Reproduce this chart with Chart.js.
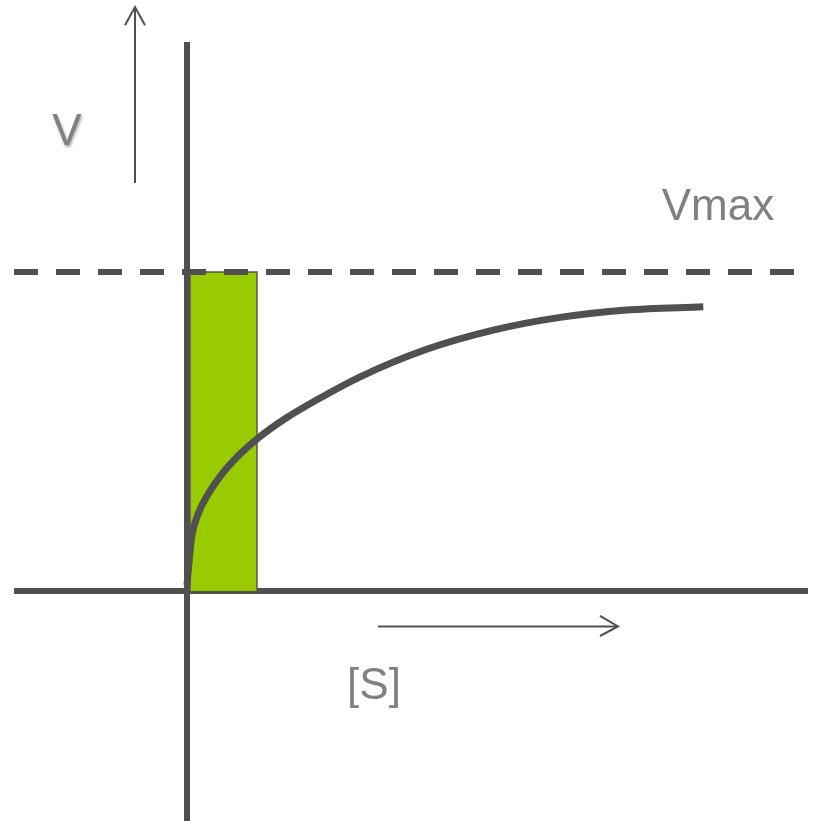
<!DOCTYPE html>
<html>
<head>
<meta charset="utf-8">
<script src="https://cdn.jsdelivr.net/npm/chart.js@4"></script>
<style>
  html, body { margin: 0; padding: 0; background: #fff; }
  canvas { display: block; }
</style>
</head>
<body>
<canvas id="chart" width="815" height="821"></canvas>
<script>
// substrate concentration [S] (arbitrary units) and rate V as fraction of Vmax
const sValues = [0, 0.2, 0.47, 1.13, 2.13, 3.47, 5.13, 6.97, 9.8, 13.13, 17.47, 23.97, 30.63, 37.3, 43.97, 51.63];
const vValues = [0.019, 0.09, 0.170, 0.243, 0.305, 0.366, 0.424, 0.476, 0.540, 0.602, 0.674, 0.758, 0.818, 0.858, 0.881, 0.891];
const vmax = 1;
const barS = [0.3, 7.0];
const axisLabels = ['V', 'Vmax', '[S]'];

const dark = '#505050';
const grey = '#808080';

const xMin = -18.7, xMax = 62.8;
const yMin = -0.721, yMax = 1.853;

const pts = (xs, ys) => xs.map((x, i) => ({ x: x, y: ys[i] }));

const textPlugin = {
  id: 'texts',
  afterDraw(chart) {
    const { ctx, scales: { x, y } } = chart;
    const items = [
      { t: axisLabels[0], sx: -12.0, sy: 1.437, shadow: true },
      { t: axisLabels[1], sx: 53.1, sy: 1.20 },
      { t: axisLabels[2], sx: 18.7, sy: -0.301 }
    ];
    ctx.save();
    ctx.font = '44px "Liberation Sans", Arial, sans-serif';
    ctx.fillStyle = grey;
    ctx.textAlign = 'center';
    ctx.textBaseline = 'middle';
    items.forEach(it => {
      if (it.shadow) {
        ctx.shadowColor = 'rgba(0,0,0,0.35)';
        ctx.shadowBlur = 3;
        ctx.shadowOffsetX = 1;
        ctx.shadowOffsetY = 2;
      } else {
        ctx.shadowColor = 'transparent';
      }
      ctx.fillText(it.t, x.getPixelForValue(it.sx), y.getPixelForValue(it.sy));
    });
    ctx.restore();
  }
};

const lineDs = (data, extra) => Object.assign({
  data: data,
  borderColor: dark,
  borderWidth: 2,
  pointRadius: 0,
  fill: false,
  tension: 0,
  clip: false
}, extra);

new Chart(document.getElementById('chart'), {
  type: 'line',
  data: {
    datasets: [
      // Michaelis-Menten curve
      lineDs(pts(sValues, vValues), { borderWidth: 7, cubicInterpolationMode: 'monotone', order: 0 }),
      // Vmax dashed line
      lineDs([{ x: -17.3, y: vmax }, { x: 60.8, y: vmax }], { borderWidth: 6, borderDash: [24, 18], order: 1 }),
      // green bar
      lineDs([{ x: barS[0], y: 0 }, { x: barS[0], y: vmax }, { x: barS[1], y: vmax }, { x: barS[1], y: 0 }],
        { borderWidth: 1.5, borderColor: '#555555', backgroundColor: '#99cc00', fill: 'origin', order: 2 }),
      // axes
      lineDs([{ x: -17.3, y: 0 }, { x: 62.1, y: 0 }], { borderWidth: 6, order: 3 }),
      lineDs([{ x: 0, y: 1.721 }, { x: 0, y: yMin }], { borderWidth: 6, order: 3 }),
      // V arrow
      lineDs([{ x: -5.2, y: 1.279 }, { x: -5.2, y: 1.831 }], { order: 4 }),
      lineDs([{ x: -6.2, y: 1.774 }, { x: -5.2, y: 1.831 }, { x: -4.2, y: 1.774 }], { order: 4 }),
      // [S] arrow
      lineDs([{ x: 19.1, y: -0.111 }, { x: 43.1, y: -0.111 }], { order: 4 }),
      lineDs([{ x: 41.3, y: -0.078 }, { x: 43.1, y: -0.111 }, { x: 41.3, y: -0.141 }], { order: 4 })
    ]
  },
  options: {
    responsive: false,
    animation: false,
    devicePixelRatio: 1,
    layout: { padding: 0 },
    scales: {
      x: { type: 'linear', min: xMin, max: xMax, display: false },
      y: { type: 'linear', min: yMin, max: yMax, display: false }
    },
    plugins: {
      legend: { display: false },
      tooltip: { enabled: false }
    }
  },
  plugins: [textPlugin]
});
</script>
</body>
</html>
